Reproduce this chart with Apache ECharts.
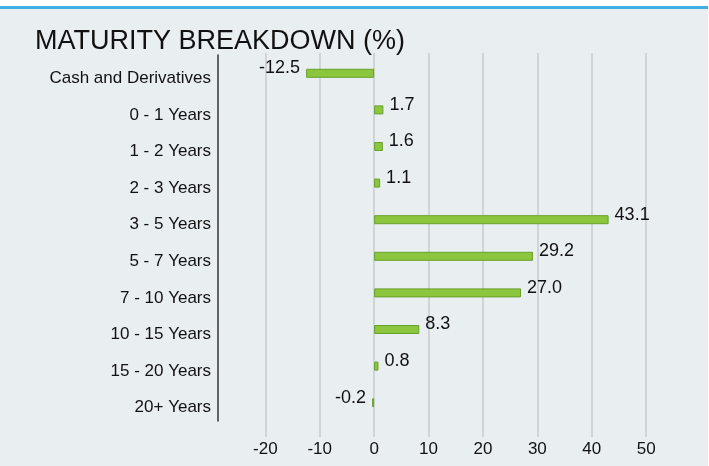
<!DOCTYPE html>
<html>
<head>
<meta charset="utf-8">
<script src="https://cdn.jsdelivr.net/npm/echarts@6/dist/echarts.min.js"></script>
<style>
  html, body { margin: 0; padding: 0; background: #ffffff; }
  #wrap { position: absolute; left: 0; top: 6px; width: 708px; height: 460px;
          border-top: 3px solid #3eb1e6; background: #e9eef1; box-sizing: border-box; }
  #chart { position: absolute; left: 0; top: -9px; width: 709px; height: 466px; }
</style>
</head>
<body>
<div id="wrap"><div id="chart"></div></div>
<script>
const categories = ["Cash and Derivatives", "0 - 1 Years", "1 - 2 Years", "2 - 3 Years", "3 - 5 Years",
  "5 - 7 Years", "7 - 10 Years", "10 - 15 Years", "15 - 20 Years", "20+ Years"];
const values = [-12.5, 1.7, 1.6, 1.1, 43.1, 29.2, 27.0, 8.3, 0.8, -0.2];
const axisMin = -28.7;
const axisMax = 59.9;

const font = "Liberation Sans, Arial, sans-serif";

const barData = values.map(v => ({
  value: v,
  label: { position: v < 0 ? "left" : "right", offset: [0, -5] }
}));

const chart = echarts.init(document.getElementById("chart"));
chart.setOption({
  animation: false,
  title: {
    text: "MATURITY BREAKDOWN (%)",
    left: 30, top: 23,
    textStyle: { fontFamily: font, fontSize: 27, fontWeight: "normal", color: "#111" }
  },
  grid: [
    { left: 218, width: 482, top: 55, height: 366 },
    { left: 218, width: 482, top: 53, height: 384 }
  ],
  xAxis: [
    {
      type: "value", gridIndex: 0, min: axisMin, max: axisMax, splitNumber: 9,
      axisLine: { show: false }, axisTick: { show: false },
      axisLabel: { show: false }, splitLine: { show: false }
    },
    {
      type: "value", gridIndex: 1, min: axisMin, max: axisMax, splitNumber: 9,
      axisLine: { show: false }, axisTick: { show: false },
      axisLabel: { showMinLabel: false, showMaxLabel: false, margin: 4,
        fontFamily: font, fontSize: 17, color: "#111" },
      splitLine: { show: true, showMinLine: false, showMaxLine: false,
        lineStyle: { color: "#c9cbcd", width: 1.5 } }
    }
  ],
  yAxis: [
    {
      type: "category", gridIndex: 0, data: categories, inverse: true,
      axisLine: { show: true, onZero: false, lineStyle: { color: "#333", width: 1.5 } },
      axisTick: { show: false },
      axisLabel: {
        margin: 7,
        formatter: v => "{c|" + v + "}",
        rich: { c: { fontFamily: font, fontSize: 17, color: "#111", padding: [10, 0, 0, 0] } }
      }
    },
    {
      type: "value", gridIndex: 1, show: false
    }
  ],
  series: [
    {
      type: "bar", xAxisIndex: 0, yAxisIndex: 0,
      data: barData, barWidth: 9, barMinHeight: 2,
      itemStyle: { color: "#8cc63f", borderColor: "#67a02a", borderWidth: 1 },
      label: { show: true, distance: 6, fontFamily: font, fontSize: 18, color: "#111",
        formatter: p => p.value.toFixed(1) }
    }
  ]
});
</script>
</body>
</html>
